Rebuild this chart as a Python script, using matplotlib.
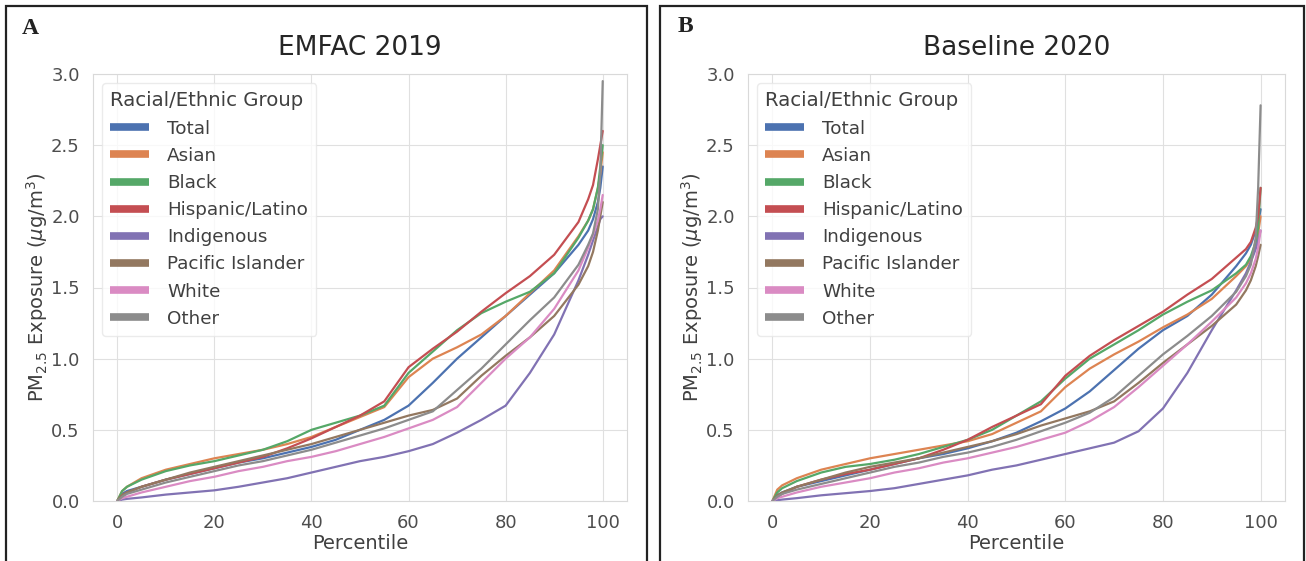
import numpy as np
import matplotlib
matplotlib.use("Agg")
import matplotlib.pyplot as plt
import seaborn as sns
from matplotlib.patches import Rectangle

# percentiles at which the exposure curves were read
pct = [0, 1, 2, 5, 10, 15, 20, 25, 30, 35, 40, 45, 50, 55, 60, 65, 70, 75, 80, 85, 90, 95, 97, 98, 99, 99.5, 100]

groups = ["Total", "Asian", "Black", "Hispanic/Latino", "Indigenous", "Pacific Islander", "White", "Other"]

# panel A : EMFAC 2019
emfac_total = [0, 0.05, 0.07, 0.1, 0.15, 0.19, 0.23, 0.27, 0.3, 0.34, 0.38, 0.43, 0.5, 0.57, 0.67, 0.83, 1.0, 1.15, 1.3, 1.45, 1.6, 1.8, 1.9, 1.98, 2.1, 2.2, 2.35]
emfac_asian = [0, 0.07, 0.1, 0.16, 0.22, 0.26, 0.3, 0.33, 0.36, 0.4, 0.45, 0.52, 0.59, 0.66, 0.87, 1.0, 1.08, 1.17, 1.3, 1.46, 1.62, 1.86, 1.97, 2.05, 2.2, 2.3, 2.45]
emfac_black = [0, 0.07, 0.1, 0.15, 0.21, 0.25, 0.28, 0.32, 0.36, 0.42, 0.5, 0.55, 0.6, 0.67, 0.9, 1.05, 1.2, 1.32, 1.4, 1.47, 1.6, 1.85, 1.97, 2.05, 2.2, 2.35, 2.5]
emfac_hispanic = [0, 0.04, 0.06, 0.1, 0.15, 0.19, 0.23, 0.27, 0.31, 0.37, 0.44, 0.52, 0.6, 0.7, 0.94, 1.07, 1.19, 1.33, 1.46, 1.58, 1.73, 1.96, 2.12, 2.22, 2.4, 2.5, 2.6]
emfac_indigenous = [0, 0.01, 0.015, 0.025, 0.045, 0.06, 0.075, 0.1, 0.13, 0.16, 0.2, 0.24, 0.28, 0.31, 0.35, 0.4, 0.48, 0.57, 0.67, 0.9, 1.17, 1.55, 1.73, 1.83, 1.93, 1.98, 2.0]
emfac_pacific = [0, 0.04, 0.06, 0.1, 0.15, 0.2, 0.24, 0.28, 0.32, 0.36, 0.4, 0.45, 0.5, 0.55, 0.6, 0.64, 0.72, 0.88, 1.02, 1.15, 1.3, 1.52, 1.65, 1.75, 1.9, 2.0, 2.1]
emfac_white = [0, 0.02, 0.03, 0.06, 0.1, 0.14, 0.17, 0.21, 0.24, 0.28, 0.31, 0.35, 0.4, 0.45, 0.51, 0.57, 0.66, 0.83, 1.0, 1.15, 1.35, 1.62, 1.78, 1.87, 1.97, 2.05, 2.15]
emfac_other = [0, 0.03, 0.05, 0.08, 0.13, 0.17, 0.21, 0.25, 0.28, 0.32, 0.36, 0.41, 0.46, 0.51, 0.57, 0.63, 0.78, 0.93, 1.1, 1.27, 1.43, 1.66, 1.8, 1.88, 2.05, 2.3, 2.95]

# panel B : Baseline 2020
base_total = [0, 0.04, 0.06, 0.1, 0.14, 0.18, 0.22, 0.26, 0.3, 0.33, 0.37, 0.42, 0.48, 0.56, 0.65, 0.77, 0.92, 1.07, 1.2, 1.3, 1.45, 1.65, 1.74, 1.8, 1.9, 1.95, 2.05]
base_asian = [0, 0.08, 0.11, 0.16, 0.22, 0.26, 0.3, 0.33, 0.36, 0.39, 0.42, 0.47, 0.55, 0.63, 0.8, 0.93, 1.03, 1.12, 1.22, 1.31, 1.42, 1.58, 1.65, 1.7, 1.8, 1.88, 2.0]
base_black = [0, 0.06, 0.09, 0.14, 0.2, 0.24, 0.26, 0.29, 0.33, 0.38, 0.43, 0.5, 0.6, 0.7, 0.86, 1.0, 1.1, 1.2, 1.31, 1.4, 1.48, 1.6, 1.66, 1.72, 1.82, 1.92, 2.2]
base_hispanic = [0, 0.03, 0.05, 0.1, 0.15, 0.19, 0.22, 0.26, 0.3, 0.36, 0.43, 0.52, 0.6, 0.68, 0.88, 1.02, 1.13, 1.23, 1.33, 1.45, 1.56, 1.71, 1.77, 1.82, 1.92, 2.0, 2.2]
base_indigenous = [0, 0.005, 0.01, 0.02, 0.04, 0.055, 0.07, 0.09, 0.12, 0.15, 0.18, 0.22, 0.25, 0.29, 0.33, 0.37, 0.41, 0.49, 0.65, 0.9, 1.2, 1.48, 1.6, 1.68, 1.77, 1.83, 1.9]
base_pacific = [0, 0.04, 0.06, 0.1, 0.15, 0.2, 0.24, 0.27, 0.3, 0.34, 0.38, 0.42, 0.47, 0.53, 0.58, 0.63, 0.7, 0.83, 0.97, 1.1, 1.23, 1.38, 1.48, 1.55, 1.65, 1.72, 1.8]
base_white = [0, 0.02, 0.03, 0.06, 0.1, 0.13, 0.16, 0.2, 0.23, 0.27, 0.3, 0.34, 0.38, 0.43, 0.48, 0.56, 0.66, 0.8, 0.95, 1.1, 1.26, 1.43, 1.53, 1.6, 1.7, 1.78, 1.9]
base_other = [0, 0.03, 0.05, 0.08, 0.12, 0.16, 0.2, 0.24, 0.27, 0.31, 0.34, 0.38, 0.43, 0.49, 0.55, 0.62, 0.73, 0.88, 1.03, 1.16, 1.3, 1.47, 1.58, 1.66, 1.85, 2.2, 2.78]

emfac = [emfac_total, emfac_asian, emfac_black, emfac_hispanic,
         emfac_indigenous, emfac_pacific, emfac_white, emfac_other]
base = [base_total, base_asian, base_black, base_hispanic,
        base_indigenous, base_pacific, base_white, base_other]

sns.set_style("whitegrid", {"grid.color": ".88", "axes.edgecolor": ".85"})
plt.rcParams['font.family'] = ['DejaVu Sans']
colors = sns.color_palette("deep", 8)

W, H = 1306, 561
fig = plt.figure(figsize=(W / 100, H / 100), dpi=100)

def draw_panel(rect, series, title):
  ax = fig.add_axes(rect)
  for vals, name, c in zip(series, groups, colors):
    ax.plot(pct, vals, color=c, lw=1.6, label=name)
  ax.set_xlim(-5, 105)
  ax.set_ylim(0, 3.0)
  ax.set_xticks([0, 20, 40, 60, 80, 100])
  ax.set_yticks([0, 0.5, 1.0, 1.5, 2.0, 2.5, 3.0])
  ax.tick_params(labelsize=13, colors='.3', pad=6)
  ax.set_xlabel('Percentile', fontsize=14, color='.25', labelpad=1)
  ax.set_ylabel(r'PM$_{2.5}$ Exposure ($\mu$g/m$^3$)', fontsize=14, color='.25', labelpad=1)
  ax.set_title(title, fontsize=19, color='.15', pad=14)
  leg = ax.legend(title='Racial/Ethnic Group', loc='upper left', fontsize=13.2,
                  title_fontsize=14.2, handlelength=2.1, handletextpad=1.0,
                  labelspacing=0.5, borderaxespad=0.5, borderpad=0.45,
                  frameon=True, alignment='left')
  for h in leg.get_lines():
    h.set_linewidth(5.5)
    h.set_solid_capstyle('butt')
  for t in leg.get_texts():
    t.set_color('.25')
  leg.get_title().set_color('.25')
  leg.get_frame().set_edgecolor('.9')
  return ax

ax1 = draw_panel([93 / W, 60 / H, 534 / W, 427 / H], emfac, 'EMFAC 2019')
ax2 = draw_panel([748 / W, 60 / H, 537 / W, 427 / H], base, 'Baseline 2020')

# panel frames (bottom edge runs off the picture)
for x0, x1 in [(6, 647), (660, 1304)]:
  fig.patches.append(Rectangle((x0 / W, -0.1), (x1 - x0) / W, (H - 6) / H + 0.1,
                               transform=fig.transFigure, fill=False,
                               edgecolor='#222222', lw=1.6))

fig.text(30 / W, 1 - 29 / H, 'A', family='Liberation Serif', weight='bold',
         fontsize=17, ha='center', va='center', color='#222222')
fig.text(685 / W, 1 - 27 / H, 'B', family='Liberation Serif', weight='bold',
         fontsize=17, ha='center', va='center', color='#222222')

fig.savefig('out.png', dpi=100)
